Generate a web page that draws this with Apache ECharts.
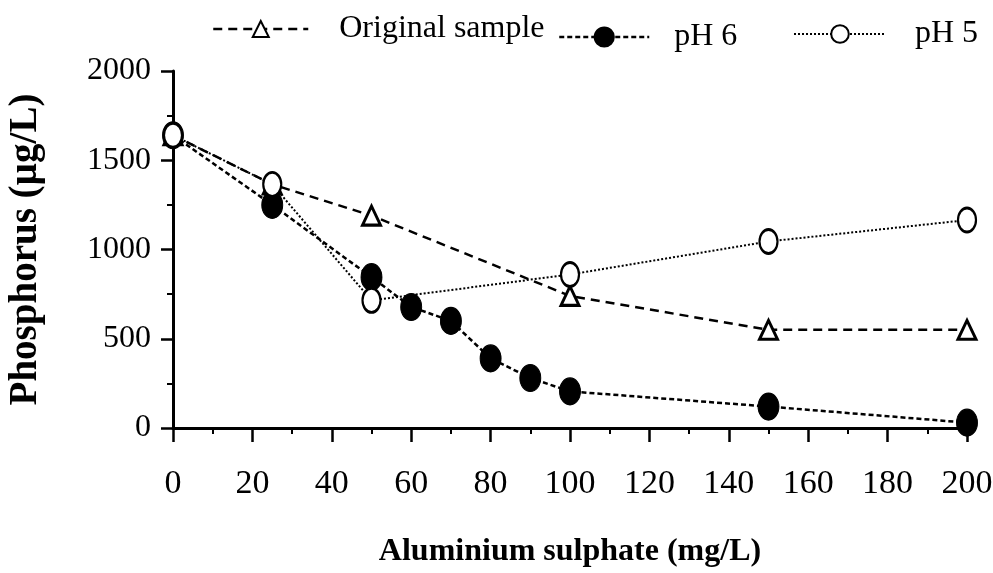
<!DOCTYPE html>
<html>
<head>
<meta charset="utf-8">
<script src="https://cdn.jsdelivr.net/npm/echarts@6/dist/echarts.min.js"></script>
<style>
  html, body { margin: 0; padding: 0; background: #fff; }
  #chart { width: 993px; height: 573px; }
</style>
</head>
<body>
<div id="chart"></div>
<script>
// Aluminium sulphate dose (mg/L) and residual phosphorus (µg/L)
const originalDose = [0, 25, 50, 100, 150, 200];
const originalP    = [1640, 1365, 1190, 740, 550, 550];

const ph6Dose = [0, 25, 50, 60, 70, 80, 90, 100, 150, 200];
const ph6P    = [1640, 1250, 845, 678, 600, 390, 280, 205, 120, 30];

const ph5Dose = [0, 25, 50, 100, 150, 200];
const ph5P    = [1640, 1365, 715, 860, 1045, 1165];

const seriesNames = ['Original sample', 'pH 6', 'pH 5'];
const yTicks = [0, 500, 1000, 1500, 2000];
const xTicks = [0, 20, 40, 60, 80, 100, 120, 140, 160, 180, 200];

const pairs = (xs, ys) => xs.map((x, i) => [x, ys[i]]);
const FONT = '"Liberation Serif", "Times New Roman", serif';

const chart = echarts.init(document.getElementById('chart'), null, { renderer: 'canvas' });

const legendText = { fontFamily: FONT, fontSize: 32, color: '#000' };

chart.setOption({
  backgroundColor: '#fff',
  animation: false,
  legend: [
    {
      data: [seriesNames[0]], left: 207, top: 8,
      itemWidth: 95, itemHeight: 20,
      lineStyle: { width: 2.5 },
      textStyle: Object.assign({ padding: [0, 0, 0, 26] }, legendText)
    },
    {
      data: [seriesNames[1]], left: 553, top: 16,
      itemWidth: 90, itemHeight: 24,
      lineStyle: { width: 2.5 },
      textStyle: Object.assign({ padding: [0, 0, 0, 20] }, legendText)
    },
    {
      data: [seriesNames[2]], left: 788, top: 13,
      itemWidth: 92, itemHeight: 22,
      lineStyle: { width: 2 },
      textStyle: Object.assign({ padding: [0, 0, 0, 24] }, legendText)
    }
  ],
  grid: { left: 173, right: 26, top: 71, bottom: 145, outerBoundsMode: 'none', containLabel: false },
  xAxis: {
    type: 'value', min: xTicks[0], max: xTicks[xTicks.length - 1], interval: 20,
    name: 'Aluminium sulphate (mg/L)', nameLocation: 'middle', nameGap: 108,
    nameTextStyle: { fontFamily: FONT, fontSize: 32, fontWeight: 'bold', color: '#000' },
    axisLine: { onZero: false, lineStyle: { color: '#000', width: 3 } },
    axisTick: { show: true, inside: false, length: 14, lineStyle: { color: '#000', width: 2.5 } },
    minorTick: { show: true, splitNumber: 2, length: 6, lineStyle: { color: '#000', width: 2 } },
    axisLabel: { fontFamily: FONT, fontSize: 34, color: '#000', margin: 39, formatter: v => String(v) },
    splitLine: { show: false }
  },
  yAxis: {
    type: 'value', min: yTicks[0], max: yTicks[yTicks.length - 1], interval: 500,
    name: 'Phosphorus (µg/L)', nameLocation: 'middle', nameGap: 128,
    nameTextStyle: { fontFamily: FONT, fontSize: 39, fontWeight: 'bold', color: '#000' },
    axisLine: { show: true, onZero: false, lineStyle: { color: '#000', width: 3 } },
    axisTick: { show: true, inside: false, length: 12, lineStyle: { color: '#000', width: 2.5 } },
    minorTick: { show: true, splitNumber: 2, length: 6, lineStyle: { color: '#000', width: 2 } },
    axisLabel: { fontFamily: FONT, fontSize: 32, color: '#000', margin: 22, formatter: v => String(v) },
    splitLine: { show: false }
  },
  series: [
    {
      name: seriesNames[0], type: 'line', data: pairs(originalDose, originalP),
      symbol: 'triangle', symbolSize: [18, 19],
      itemStyle: { color: '#fff', borderColor: '#000', borderWidth: 3 },
      lineStyle: { color: '#000', width: 2.5, type: [9, 6] },
      z: 2
    },
    {
      name: seriesNames[1], type: 'line', data: pairs(ph6Dose, ph6P),
      symbol: 'circle', symbolSize: [21, 27],
      itemStyle: { color: '#000', borderColor: '#000', borderWidth: 1 },
      lineStyle: { color: '#000', width: 2.5, type: [5, 3] },
      z: 3
    },
    {
      name: seriesNames[2], type: 'line', data: pairs(ph5Dose, ph5P),
      symbol: 'circle', symbolSize: [18, 24],
      itemStyle: { color: '#fff', borderColor: '#000', borderWidth: 2.5 },
      lineStyle: { color: '#000', width: 2, type: [2, 2] },
      z: 4
    }
  ]
});
</script>
</body>
</html>
